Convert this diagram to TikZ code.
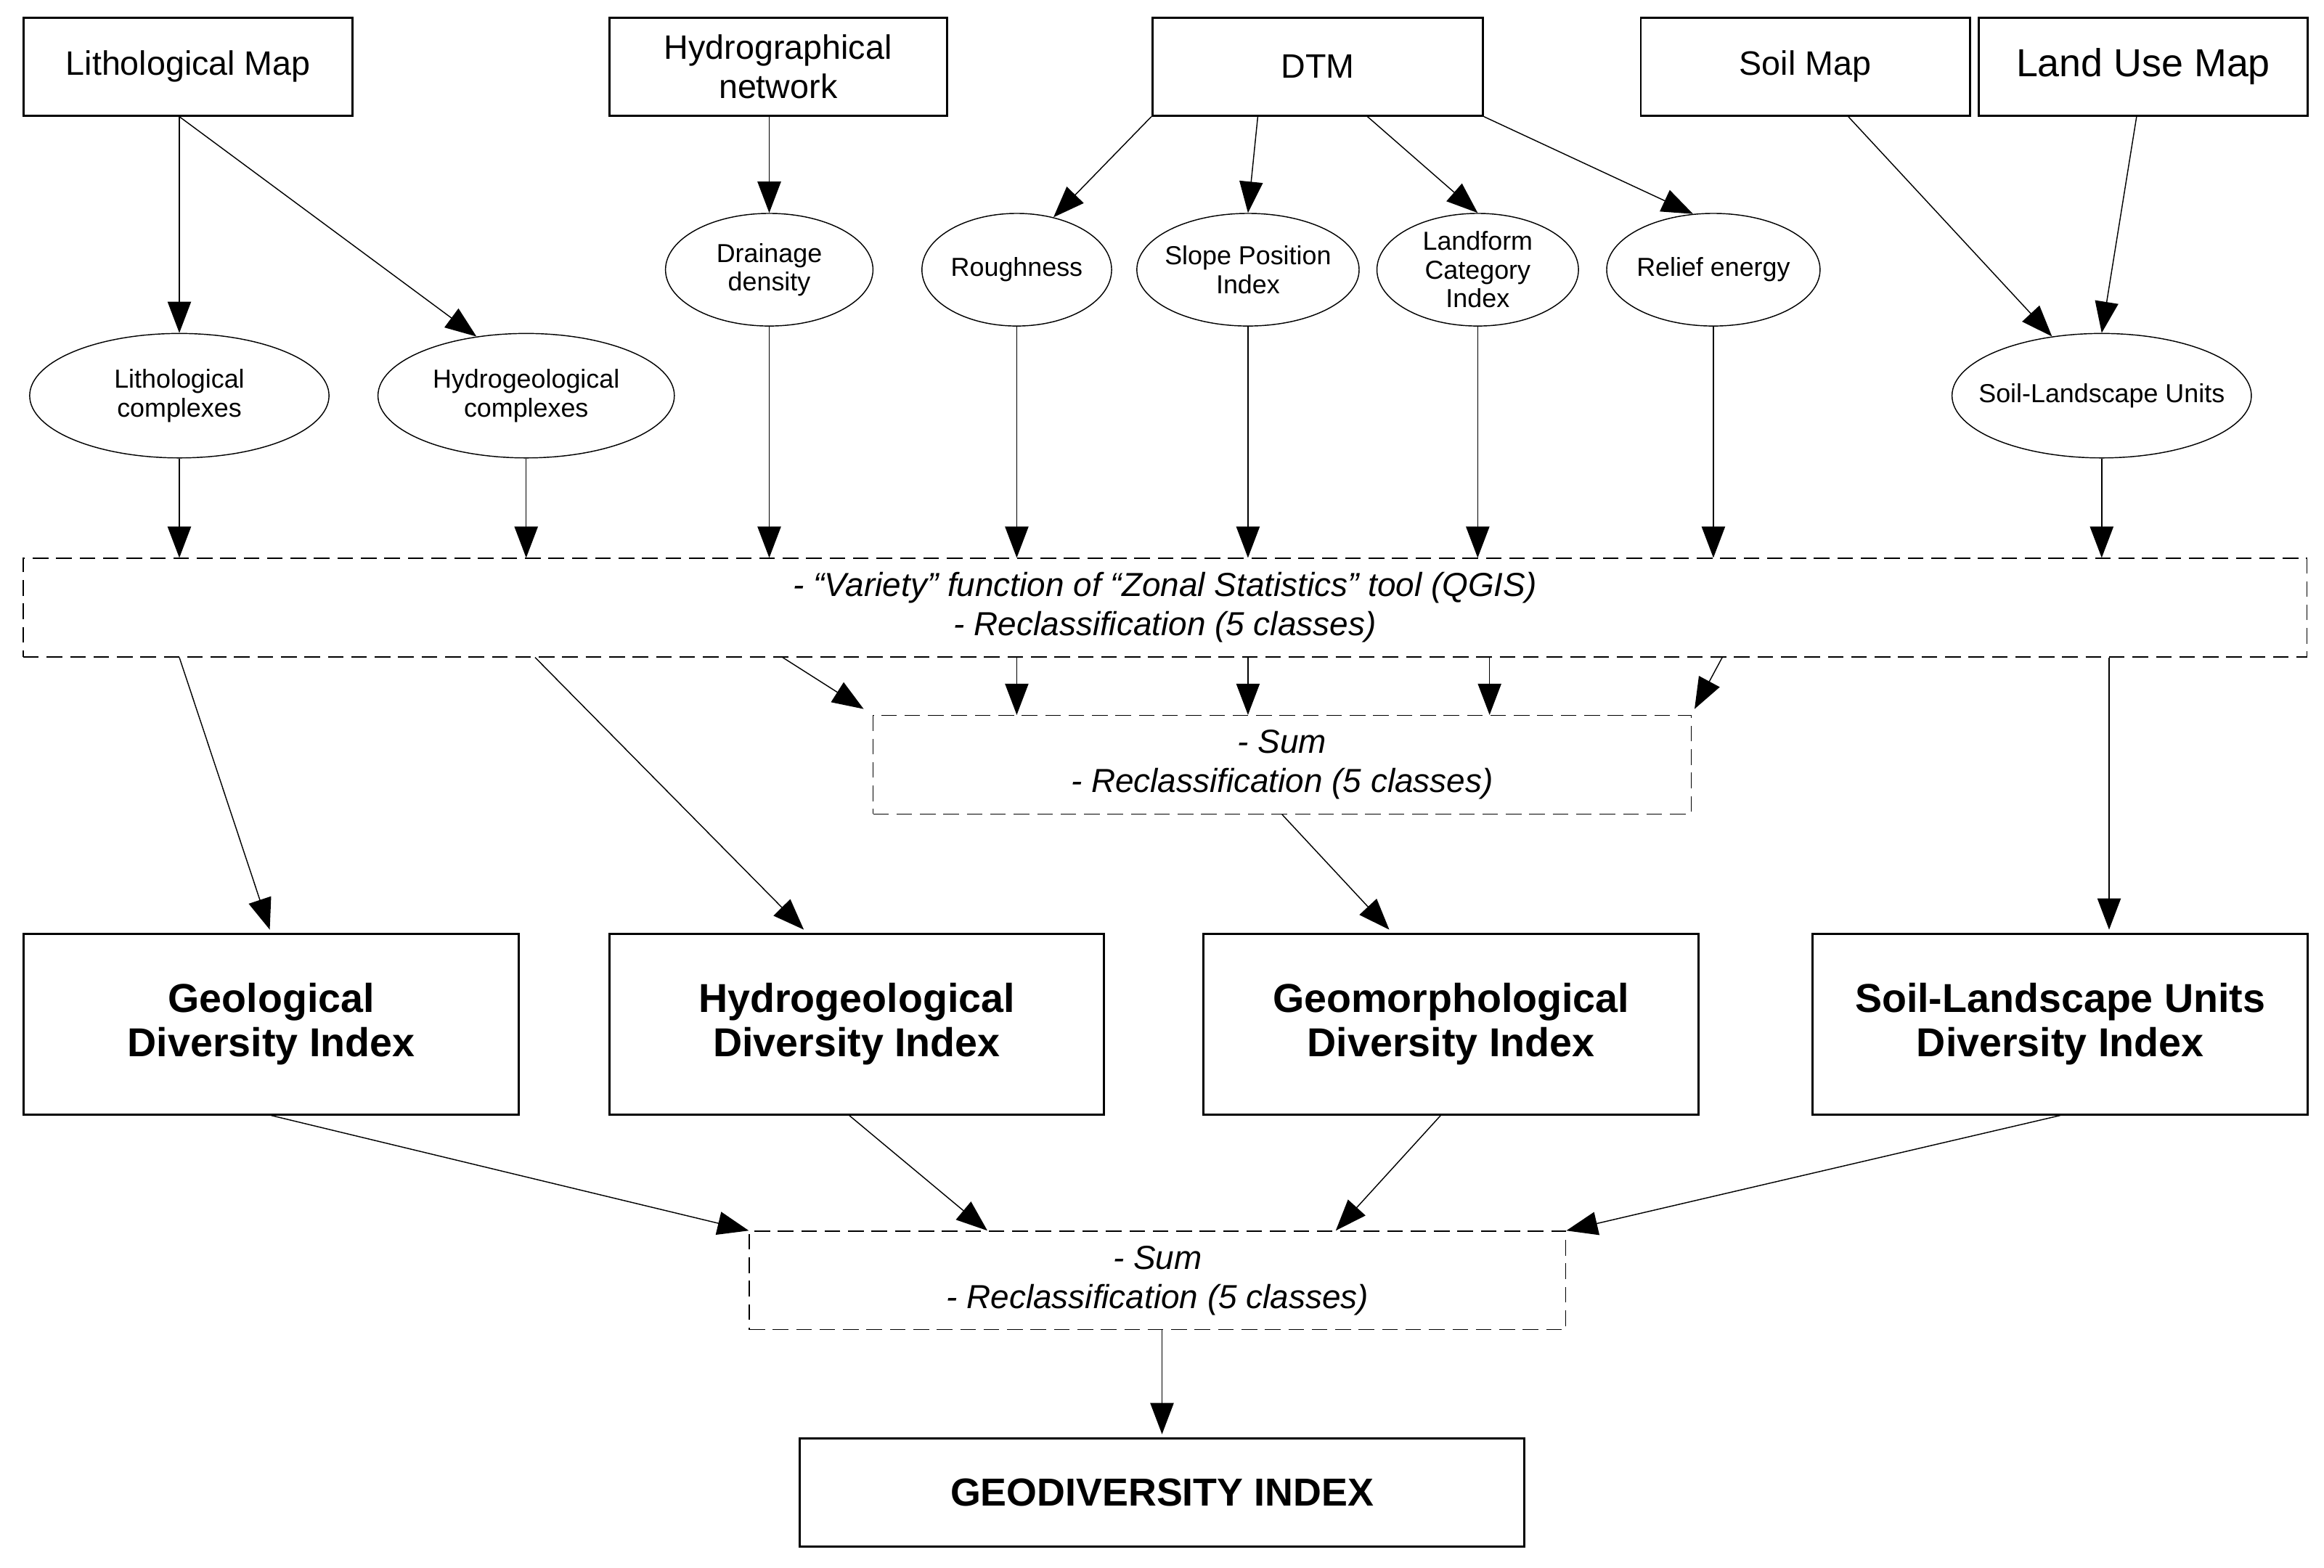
\documentclass[tikz,border=0pt]{standalone}
\usepackage{fontspec}
\setmainfont{Liberation Sans}
\usetikzlibrary{arrows.meta,calc,shapes.geometric}
\tikzset{
  src/.style={draw,thick,minimum height=1.32cm,font=\fontsize{13}{15}\selectfont,align=center},
  ell/.style={draw,ellipse,inner sep=0pt,font=\fontsize{10}{11}\selectfont,align=center},
  proc/.style={draw,dash pattern=on 6pt off 3pt,minimum height=1.33cm,font=\itshape\fontsize{12.8}{15}\selectfont,align=center},
  idx/.style={draw,thick,minimum width=6.68cm,minimum height=2.44cm,font=\bfseries\fontsize{15.5}{17}\selectfont,align=center},
  arr/.style={-{Triangle[length=12pt,width=9pt]}}
}
\begin{document}
\begin{tikzpicture}[x=0.02cm,y=-0.02cm]
  \useasboundingbox (0,0) rectangle (1568,1058);
  % input maps
  \node[src,minimum width=4.44cm] (lith) at (127,45) {Lithological Map};
  \node[src,minimum width=4.56cm] (hydro) at (525,45) {Hydrographical\\network};
  \node[src,minimum width=4.46cm] (dtm) at (889,45) {DTM};
  \node[src,minimum width=4.44cm] (soil) at (1218,45) {Soil Map};
  \node[src,minimum width=4.44cm,font=\fontsize{15}{17}\selectfont] (luse) at (1446,45) {Land Use Map};
  % derived layers
  \node[ell,minimum width=4.04cm,minimum height=1.68cm] (litc) at (121,267) {Lithological\\complexes};
  \node[ell,minimum width=4.0cm,minimum height=1.68cm] (hydc) at (355,267) {Hydrogeological\\complexes};
  \node[ell,minimum width=2.8cm,minimum height=1.52cm] (drain) at (519,182) {Drainage\\density};
  \node[ell,minimum width=2.56cm,minimum height=1.52cm] (rough) at (686,182) {Roughness};
  \node[ell,inner xsep=-6pt,minimum width=3.0cm,minimum height=1.52cm] (spi) at (842,182) {Slope Position\\Index};
  \node[ell,minimum width=2.72cm,minimum height=1.52cm] (lci) at (997,182) {Landform\\Category\\Index};
  \node[ell,inner xsep=-4pt,minimum width=2.88cm,minimum height=1.52cm] (relief) at (1156,182) {Relief energy};
  \node[ell,inner xsep=-10pt,minimum width=4.04cm,minimum height=1.68cm] (slu) at (1418,267) {Soil-Landscape Units};
  % processing
  \node[proc,minimum width=30.82cm] (var) at (786,410) {- ``Variety'' function of ``Zonal Statistics'' tool (QGIS)\\- Reclassification (5 classes)};
  \node[proc,minimum width=11.04cm] (sum1) at (865,516) {- Sum\\- Reclassification (5 classes)};
  % indices
  \node[idx] (geoI) at (183,691) {Geological\\Diversity Index};
  \node[idx] (hydI) at (578,691) {Hydrogeological\\Diversity Index};
  \node[idx] (geomI) at (979,691) {Geomorphological\\Diversity Index};
  \node[idx] (soilI) at (1390,691) {Soil-Landscape Units\\Diversity Index};
  \node[proc,minimum width=11.02cm] (sum2) at (781,864) {- Sum\\- Reclassification (5 classes)};
  \node[src,minimum width=9.78cm,minimum height=1.46cm,font=\bfseries\fontsize{15}{17}\selectfont] (geo) at (784,1007) {GEODIVERSITY INDEX};
  % top arrows
  \draw[arr] (lith.south -| litc) -- (litc);
  \draw[arr] (lith.south -| litc) -- (hydc.130);
  \draw[arr] (hydro.south -| drain) -- (drain);
  \draw[arr] (dtm.south west) -- (rough.55);
  \draw[arr] ($(dtm.south west)!0.32!(dtm.south east)$) -- (spi.north);
  \draw[arr] ($(dtm.south west)!0.65!(dtm.south east)$) -- (lci.north);
  \draw[arr] (dtm.south east) -- (relief.110);
  \draw[arr] ($(soil.south west)!0.63!(soil.south east)$) -- (slu.130);
  \draw[arr] ($(luse.south west)!0.48!(luse.south east)$) -- (slu.north);
  % into variety box
  \foreach \n in {litc,hydc,drain,rough,spi,lci,relief,slu}
    \draw[arr] (\n) -- (var.north -| \n);
  % variety to sum / indices
  \draw[arr] (var.south -| rough) -- (sum1.north -| rough);
  \draw[arr] (var.south -| spi) -- (sum1.north -| spi);
  \draw[arr] ($(var.south -| lci)+(8,0)$) -- ($(sum1.north -| lci)+(8,0)$);
  \draw[arr] ($(var.south -| drain)+(9,0)$) -- ($(sum1.north west)+(-6,-4)$);
  \draw[arr] ($(var.south -| relief)+(6,0)$) -- ($(sum1.north east)+(2,-4)$);
  \draw[arr] (var.south -| litc) -- ($(geoI.north)+(-1,-2)$);
  \draw[arr] ($(var.south -| hydc)+(6,0)$) -- ($(hydI.north west)+(132,-2)$);
  \draw[arr] ($(var.south -| slu)+(5,0)$) -- ($(soilI.north -| slu)+(5,-2)$);
  \draw[arr] (sum1.south) -- ($(geomI.north west)+(126,-2)$);
  % indices to final sum
  \draw[arr] (geoI.south) -- (sum2.north west);
  \draw[arr] ($(hydI.south)+(-5,0)$) -- ($(sum2.north west)+(161,0)$);
  \draw[arr] ($(geomI.south)+(-7,0)$) -- ($(sum2.north west)+(396,0)$);
  \draw[arr] (soilI.south) -- (sum2.north east);
  \draw[arr] ($(sum2.south)+(3,0)$) -- ($(geo.north)+(0,-2)$);
\end{tikzpicture}
\end{document}
